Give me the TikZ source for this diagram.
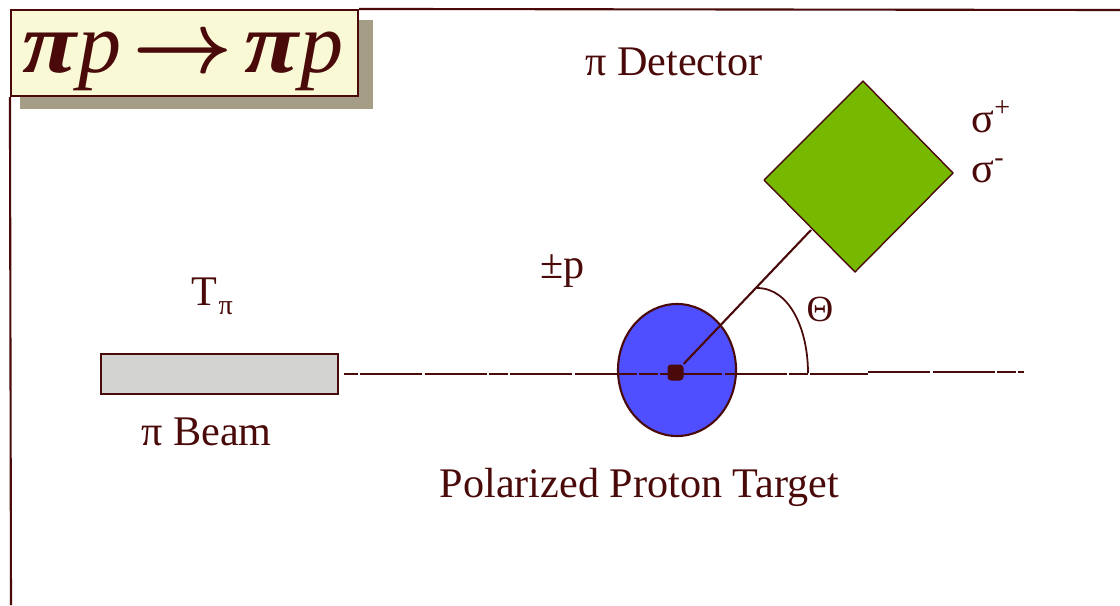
\documentclass[tikz,border=0pt]{standalone}
\usepackage{fontspec}
\usepackage{xcolor}
\usepackage{graphicx}
\setmainfont{Liberation Serif}
\definecolor{inkred}{HTML}{4A0A0A}
\definecolor{shadowtan}{HTML}{A59D85}
\definecolor{titlecream}{HTML}{FAF9D6}
\definecolor{beamgrey}{HTML}{D3D3D1}
\definecolor{targetblue}{HTML}{4F4FFF}
\definecolor{detgreen}{HTML}{76B900}
\newcommand{\widepi}{\scalebox{1.15}[1]{\bfseries\itshape π}}
\tikzset{
    outline/.style={draw=inkred, line width=0.6pt},
    beamline/.style={inkred, line width=0.5pt, dash pattern=on 0.19cm off 0.02cm on 0.62cm off 0.025cm on 0.62cm off 0.025cm},
    txt/.style={font=\fontsize{12}{14}\selectfont, text=inkred, inner sep=0pt, anchor=base}
}
\usetikzlibrary{shapes.geometric}

\begin{document}
\begin{tikzpicture}
    \useasboundingbox (0,0) rectangle (11.2,6.05);

    % Slide frame and title
    \fill[shadowtan] (0.20,4.96) rectangle (3.73,5.85);
    \node[outline, fill=titlecream, minimum width=3.47cm, minimum height=0.86cm, inner sep=0pt] (title) at (1.845,5.52) {};
    \node[font=\fontsize{24.5}{27}\selectfont, text=inkred, inner sep=0pt, anchor=base] (reaction) at (1.83,5.33) {\widepi\kern0.6pt{\itshape p}\kern3.2pt{\boldmath$\rightarrow$}\kern3.2pt\widepi\kern0.6pt{\itshape p}};
    \coordinate (frametop) at (11.2,5.95);
    \coordinate (frameleft) at (0.11,0);
    \draw[outline] (title.north east) -- (frametop);
    \draw[outline] (title.south west) -- (frameleft);

    % Beam pipe and target
    \node[outline, fill=beamgrey, minimum width=2.37cm, minimum height=0.40cm, inner sep=0pt] (beam) at (2.195,2.31) {};
    \node[outline, fill=targetblue, ellipse, minimum width=1.18cm, minimum height=1.32cm, inner sep=0pt] (target) at (6.77,2.35) {};
    \node[txt] (tpi) at (2.12,3.00) {T\kern0.5pt\raisebox{-2.8pt}{\fontsize{8}{9}\selectfont π}};
    \node[txt] (beamlabel) at (2.065,1.60) {π Beam};
    \node[txt] (targetlabel) at (6.395,1.08) {Polarized Proton Target};
    \node[txt] (pol) at (5.625,3.27) {±p};

    % Beam axis
    \coordinate (axisbreak) at (8.68,2.31);
    \coordinate (axisnext) at (8.68,2.33);
    \coordinate (axisend) at (10.24,2.33);
    \draw[beamline, dash phase=0.05cm] ([xshift=0.05cm]beam.east) -- (axisbreak);
    \draw[beamline, dash phase=0.21cm] (axisnext) -- (axisend);

    % Detector
    \coordinate (dettop) at (8.63,5.24);
    \coordinate (detright) at (9.53,4.32);
    \coordinate (detbottom) at (8.55,3.33);
    \coordinate (detleft) at (7.64,4.25);
    \coordinate (detfoot) at (8.11,3.75);
    \draw[draw=inkred, line width=0.4pt, fill=detgreen, line join=round] (dettop) -- (detright) -- (detbottom) -- (detleft) -- cycle;
    \node[txt] (detlabel) at (6.74,5.30) {π Detector};
    \node[txt, anchor=base west] (sigplus) at (9.71,4.73) {σ\textsuperscript{+}};
    \node[txt, anchor=base west] (sigminus) at (9.71,4.23) {σ\textsuperscript{-}};

    % Scattered track and angle
    \node[fill=inkred, rounded corners=1pt, minimum size=0.16cm, inner sep=0pt] (vertex) at (6.755,2.325) {};
    \draw[inkred, line width=0.6pt] (vertex) -- (detfoot);
    \coordinate (arcstart) at (7.57,3.17);
    \coordinate (arcend) at (8.08,2.32);
    \draw[inkred, line width=0.5pt] (arcstart) .. controls (7.90,3.17) and (8.08,2.75) .. (arcend);
    \node[font=\fontsize{10.5}{12}\selectfont, text=inkred, inner sep=0pt] (theta) at (8.20,2.96) {Θ};
\end{tikzpicture}
\end{document}
